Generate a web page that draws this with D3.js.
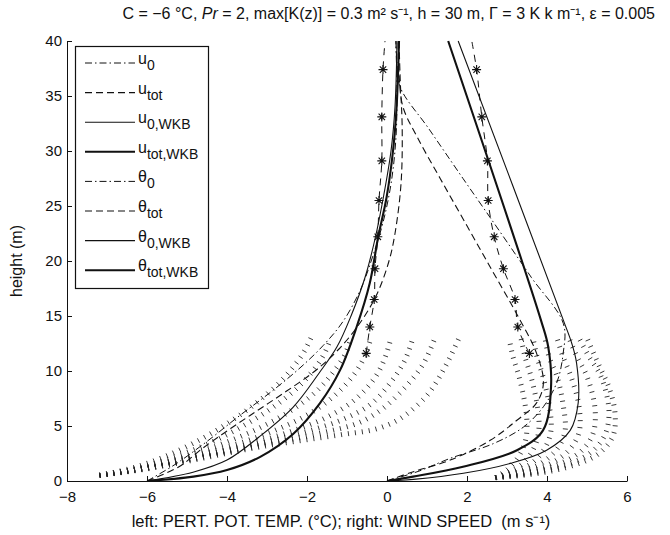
<!DOCTYPE html>
<html><head><meta charset="utf-8">
<script src="https://cdn.jsdelivr.net/npm/d3@7"></script>
<style>body{margin:0;background:#fff} text{font-family:"Liberation Sans",Arial,Helvetica,sans-serif;fill:#111;white-space:pre}</style>
</head><body><svg id="c" width="670" height="535"></svg>
<script>
// ---------- data (x value, height z) ----------
const xTicks = [-8,-6,-4,-2,0,2,4,6];
const yTicks = [0,5,10,15,20,25,30,35,40];

const theta0    = [[-6,0],[-5.3,1.5],[-4.5,3.6],[-3.7,5.9],[-2.9,8.1],[-2.2,10.2],[-1.6,12.3],[-1.1,14.5],[-0.65,17.5],[-0.35,20.5],[-0.1,23.5],[0.1,27],[0.22,31],[0.25,35],[0.22,40]];
const thetaTot  = [[-6,0],[-5.2,1.3],[-4.6,3],[-3.9,4.8],[-3.2,6.5],[-2.5,8.2],[-1.8,10],[-1.2,12],[-0.65,14.5],[-0.25,17],[0.05,20],[0.2,22.5],[0.35,27],[0.38,32],[0.33,36.5],[0.3,40]];
const theta0WKB = [[-6,0],[-4.85,0.8],[-4,1.9],[-3.2,4],[-2.35,6.7],[-1.7,9.8],[-1.25,12.2],[-0.9,15],[-0.55,18.5],[-0.3,22],[-0.08,26],[0.1,30],[0.2,34],[0.25,40]];
const thetaTotWKB = [[-6,0],[-4.84,0.4],[-4,1],[-3.17,2.2],[-2.34,4.3],[-1.67,7.1],[-1.17,10.1],[-0.76,14],[-0.43,18],[-0.22,22.2],[-0.01,25.8],[0.15,30],[0.24,34],[0.3,40]];

const u0     = [[0,0],[0.8,0.9],[1.58,2.06],[2.66,3.4],[3.41,4.9],[3.91,6.75],[4.25,9],[4.4,11.5],[4.41,14.3],[3.61,18.5],[2.76,23],[1.9,27.5],[1.05,32],[0.33,35.8],[0.25,38],[0.22,40]];
const uTot   = [[0,0],[0.66,0.85],[1.58,1.9],[2.58,3.7],[3.24,5.5],[3.74,7.1],[3.91,8.9],[3.74,11.6],[3.24,15.2],[2.65,19],[2.03,23],[1.33,27.5],[0.75,31.3],[0.4,34],[0.3,37],[0.28,40]];
const u0WKB  = [[0,0],[0.66,0.15],[1.91,0.7],[3.08,1.6],[3.99,2.8],[4.58,4.6],[4.78,7.1],[4.74,10.7],[4.62,12.5],[4.41,14.6],[1.78,40]];
const uTotWKB= [[0,0],[0.65,0.4],[1.9,1.3],[3.25,2.8],[3.9,4.6],[4.1,8.5],[4.03,12.2],[3.85,14.6],[1.53,40]];

// reference profiles with asterisk markers
const refZ       = [11.6,14,16.5,19.3,22.2,25.5,29.1,33.1,37.4,40];
const thetaRefX  = [-0.52,-0.43,-0.32,-0.3,-0.23,-0.2,-0.13,-0.13,-0.1,-0.05];
const uRefX      = [3.56,3.27,3.2,2.91,2.68,2.53,2.51,2.37,2.24,2.12];
const markerCount = 9;

// dotted families of profiles (lower layer)
const thetaFan = [
 [[-7.2,0.5],[-6.3,1.25],[-5.5,2.3],[-4.7,3.7],[-4.0,5.2],[-3.3,7.0],[-2.7,8.9],[-2.25,10.8],[-2.05,11.9],[-1.9,13]],
 [[-7.2,0.5],[-6.2,1.2],[-5.3,2.2],[-4.4,3.5],[-3.6,5.0],[-2.85,6.7],[-2.2,8.6],[-1.75,10.5],[-1.55,11.7],[-1.4,13]],
 [[-7.2,0.5],[-6.15,1.2],[-5.1,2.15],[-4.1,3.4],[-3.2,4.8],[-2.4,6.4],[-1.75,8.2],[-1.3,10.1],[-1.05,11.5],[-0.9,13]],
 [[-7.2,0.5],[-6.1,1.15],[-5.0,2.1],[-3.8,3.3],[-2.8,4.6],[-1.95,6.1],[-1.3,7.8],[-0.8,9.8],[-0.55,11.4],[-0.4,13]],
 [[-7.2,0.5],[-6.05,1.15],[-4.9,2.1],[-3.5,3.3],[-2.4,4.5],[-1.5,5.8],[-0.8,7.4],[-0.3,9.4],[-0.05,11.2],[0.1,13]],
 [[-7.2,0.5],[-6.0,1.15],[-4.84,2.05],[-3.3,3.3],[-2.0,4.5],[-1.1,5.6],[-0.4,7.0],[0.1,9.0],[0.45,11],[0.65,13]],
 [[-7.2,0.5],[-6.0,1.15],[-4.84,2.0],[-3.2,3.2],[-1.6,4.4],[-0.7,5.3],[-0.1,6.6],[0.45,8.5],[0.9,10.6],[1.2,13]],
 [[-7.2,0.5],[-6.0,1.1],[-4.84,1.9],[-3.17,3.1],[-1.17,4.2],[-0.3,4.7],[0.25,5.5],[0.7,6.7],[1.07,8.1],[1.5,10.7],[1.8,13]]
];
const uFan = [
 [[2.7,0.3],[3.0,1.0],[3.25,2.0],[3.45,3.5],[3.5,5],[3.45,7],[3.3,9.5],[3.15,11.3],[3.05,13]],
 [[2.7,0.3],[3.1,0.9],[3.45,1.8],[3.7,3.2],[3.8,4.8],[3.75,7],[3.6,9.5],[3.45,11.3],[3.35,13]],
 [[2.7,0.3],[3.2,0.85],[3.65,1.7],[3.95,3.0],[4.1,4.6],[4.05,7],[3.9,9.5],[3.75,11.3],[3.65,13]],
 [[2.7,0.3],[3.3,0.8],[3.85,1.6],[4.25,2.9],[4.45,4.5],[4.4,7],[4.25,9.5],[4.05,11.3],[3.95,13]],
 [[2.7,0.3],[3.4,0.75],[4.05,1.5],[4.55,2.8],[4.8,4.4],[4.8,6.8],[4.6,9.5],[4.4,11.3],[4.25,13]],
 [[2.7,0.3],[3.5,0.7],[4.25,1.45],[4.85,2.7],[5.15,4.3],[5.2,6.6],[5.0,9.5],[4.75,11.3],[4.55,13]],
 [[2.7,0.3],[3.6,0.7],[4.45,1.4],[5.1,2.6],[5.45,4.2],[5.55,6.4],[5.35,9.5],[5.05,11.3],[4.8,13]],
 [[2.7,0.3],[3.7,0.65],[4.6,1.35],[5.3,2.5],[5.65,4.1],[5.7,6.2],[5.55,8.5],[5.3,10.5],[5.0,13]]
];

const legendMain = ["u","u","u","u","θ","θ","θ","θ"];
const legendSub  = ["0","tot","0,WKB","tot,WKB","0","tot","0,WKB","tot,WKB"];

// ---------- drawing ----------
const svg = d3.select('#c');
svg.append('rect').attr('width',670).attr('height',535).attr('fill','#fff');
const x = d3.scaleLinear().domain([-8,6]).range([67,627]);
const y = d3.scaleLinear().domain([0,40]).range([481,41]);

svg.append('clipPath').attr('id','clip').append('rect')
  .attr('x',x(-8)).attr('y',y(40)-2).attr('width',x(6)-x(-8)).attr('height',y(0)-y(40)+2);
const plot = svg.append('g').attr('clip-path','url(#clip)');

const line = d3.line().x(d=>x(d[0])).y(d=>y(d[1])).curve(d3.curveCatmullRom.alpha(0.5));

const styles = {
  dashdot:{w:1,  dash:"7,3,1.5,3"},
  dashed: {w:1.1,dash:"7,4"},
  thin:   {w:1.1,dash:null},
  thick:  {w:2.1,dash:null}
};

// fans: short marks perpendicular to each dotted profile
function drawFan(curves){
  const g = plot.append('g');
  curves.forEach(c=>{
    const p = g.append('path').attr('d',line(c)).attr('fill','none').attr('stroke','none');
    const node = p.node(), L = node.getTotalLength();
    const step = 7;
    for(let l=1; l<L; l+=step){
      const a = node.getPointAtLength(Math.max(0,l-1)), b = node.getPointAtLength(Math.min(L,l+1));
      const q = node.getPointAtLength(l);
      let tx=b.x-a.x, ty=b.y-a.y; const n=Math.hypot(tx,ty)||1; tx/=n; ty/=n;
      const nx=-ty, ny=tx, h=2.5;
      g.append('line').attr('x1',q.x-nx*h).attr('y1',q.y-ny*h).attr('x2',q.x+nx*h).attr('y2',q.y+ny*h)
        .attr('stroke','#222').attr('stroke-width',0.9);
    }
    p.remove();
  });
}
drawFan(thetaFan);
drawFan(uFan);

function drawLine(data, st){
  const s = styles[st];
  plot.append('path').attr('d',line(data)).attr('fill','none').attr('stroke','#111')
    .attr('stroke-width',s.w).attr('stroke-dasharray',s.dash);
}
drawLine(theta0,'dashdot'); drawLine(thetaTot,'dashed'); drawLine(theta0WKB,'thin'); drawLine(thetaTotWKB,'thick');
drawLine(u0,'dashdot'); drawLine(uTot,'dashed'); drawLine(u0WKB,'thin'); drawLine(uTotWKB,'thick');

// reference profiles with asterisks
const star = d3.path(); const s=4.5, k=3.2;
star.moveTo(-s,0);star.lineTo(s,0);star.moveTo(0,-s);star.lineTo(0,s);
star.moveTo(-k,-k);star.lineTo(k,k);star.moveTo(-k,k);star.lineTo(k,-k);
[thetaRefX,uRefX].forEach(xs=>{
  const pts = xs.map((v,i)=>[v,refZ[i]]);
  plot.append('path').attr('d',line(pts)).attr('fill','none').attr('stroke','#111')
    .attr('stroke-width',1).attr('stroke-dasharray','7,6');
  plot.selectAll(null).data(pts.slice(0,markerCount)).enter().append('path')
    .attr('d',star.toString()).attr('transform',d=>`translate(${x(d[0])},${y(d[1])})`)
    .attr('stroke','#111').attr('stroke-width',1.1).attr('fill','none');
});

// axes
const ax = svg.append('g').attr('transform',`translate(0,${y(0)})`)
  .call(d3.axisBottom(x).tickValues(xTicks).tickSizeInner(-5).tickSizeOuter(0).tickPadding(10));
const ay = svg.append('g').attr('transform',`translate(${x(-8)},0)`)
  .call(d3.axisLeft(y).tickValues(yTicks).tickSizeInner(-5).tickSizeOuter(0).tickPadding(5));
[ax,ay].forEach(a=>{
  a.selectAll('path,line').attr('stroke','#111').attr('stroke-width',1);
  a.selectAll('text').attr('font-size',15).attr('fill','#111').attr('font-family','"Liberation Sans",Arial,sans-serif');
});

// legend
const lg = svg.append('g');
lg.append('rect').attr('x',75.5).attr('y',46.5).attr('width',133).attr('height',242)
  .attr('fill','#fff').attr('stroke','#111').attr('stroke-width',1.2);
const lstyles = ['dashdot','dashed','thin','thick','dashdot','dashed','thin','thick'];
legendMain.forEach((m,i)=>{
  const yy = 63 + i*29.6;
  const st = styles[lstyles[i]];
  lg.append('line').attr('x1',85).attr('x2',135).attr('y1',yy).attr('y2',yy)
    .attr('stroke','#111').attr('stroke-width',st.w).attr('stroke-dasharray',st.dash);
  const t = lg.append('text').attr('x',138).attr('y',yy+1).attr('font-size',16);
  t.append('tspan').text(m);
  t.append('tspan').attr('dy',6).attr('font-size',14).text(legendSub[i]);
});

// title and labels
const title = svg.append('text').attr('x',655).attr('y',19).attr('text-anchor','end').attr('font-size',16);
title.append('tspan').text('C = −6 °C, ');
title.append('tspan').attr('font-style','italic').text('Pr');
title.append('tspan').text(' = 2, max[K(z)] = 0.3 m² s⁻¹, h = 30 m, Γ = 3 K k m⁻¹, ε = 0.005');

svg.append('text').attr('x',341).attr('y',527).attr('text-anchor','middle').attr('font-size',16.5)
  .text('left: PERT. POT. TEMP. (°C); right: WIND SPEED  (m s⁻¹)');
svg.append('text').attr('transform','translate(22,261) rotate(-90)').attr('text-anchor','middle').attr('font-size',16)
  .text('height (m)');
</script></body></html>
